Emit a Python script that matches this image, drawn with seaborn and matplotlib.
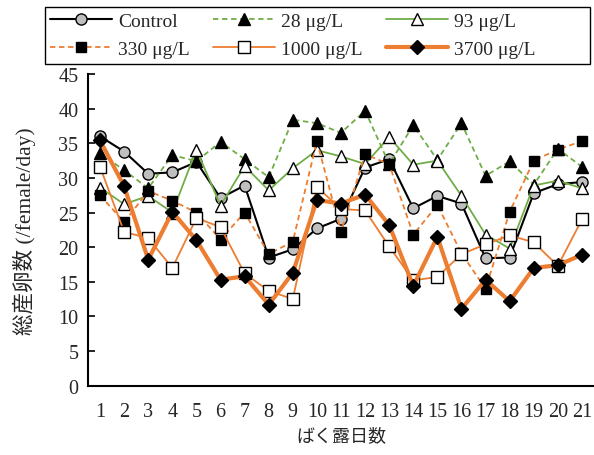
import matplotlib
matplotlib.use("Agg")
import matplotlib.pyplot as plt
from matplotlib.patches import Rectangle
import seaborn as sns
import pandas as pd
import numpy as np

days = list(range(1, 22))
control = [36.0, 33.8, 30.6, 30.8, 32.3, 27.1, 28.9, 18.5, 19.7, 22.7, 24.1, 31.5, 32.7, 25.6, 27.4, 26.3, 18.4, 18.5, 27.8, 29.1, 29.4]
c28 = [33.6, 31.1, 28.5, 33.3, 32.4, 35.2, 32.7, 30.1, 38.4, 37.9, 36.5, 39.7, 32.0, 37.6, 32.6, 37.9, 30.3, 32.4, 29.0, 34.2, 31.6]
c93 = [28.6, 26.2, 27.4, 25.0, 34.1, 26.0, 31.7, 28.2, 31.4, 34.0, 33.1, 32.0, 35.9, 31.9, 32.5, 27.4, 21.8, 19.8, 28.9, 29.6, 28.5]
c330 = [27.5, 23.6, 28.1, 26.7, 25.0, 21.1, 25.0, 19.0, 20.8, 35.3, 22.2, 33.4, 32.0, 21.8, 26.1, 19.1, 14.0, 25.1, 32.5, 34.1, 35.3]
c1000 = [31.6, 22.2, 21.3, 17.0, 24.2, 22.9, 16.2, 13.7, 12.5, 28.7, 25.5, 25.3, 20.1, 15.2, 15.7, 19.0, 20.4, 21.7, 20.7, 17.3, 24.0]
c3700 = [35.4, 28.8, 18.2, 25.1, 21.0, 15.3, 15.8, 11.7, 16.3, 26.8, 26.3, 27.6, 23.2, 14.4, 21.5, 11.1, 15.3, 12.2, 17.0, 17.4, 18.9]

labels = ["Control", "28 μg/L", "93 μg/L", "330 μg/L", "1000 μg/L", "3700 μg/L"]
yticks = list(range(0, 50, 5))

GREEN = "#70AD47"
ORANGE = "#ED7D31"

sns.set_theme(style="white")
plt.rcParams["font.family"] = ["Liberation Serif", "Noto Sans CJK JP", "DejaVu Sans"]

fig = plt.figure(figsize=(5.94, 4.56), dpi=100)
ax = fig.add_axes([88/594, 1-386.7/456, 506/594, (386.7-75)/456])

series = [control, c28, c93, c330, c1000, c3700]
styles = [
    dict(color="black", lw=1.5, ls="-", marker="o", ms=8, mfc="#BFBFBF", mec="black"),
    dict(color=GREEN, lw=1.3, ls=(0, (3, 2)), marker="^", ms=8.5, mfc="black", mec="black"),
    dict(color=GREEN, lw=1.3, ls="-", marker="^", ms=8.5, mfc="white", mec="black"),
    dict(color=ORANGE, lw=1.3, ls=(0, (3, 2)), marker="s", ms=7.5, mfc="black", mec="black"),
    dict(color=ORANGE, lw=1.3, ls="-", marker="s", ms=8, mfc="white", mec="black"),
    dict(color=ORANGE, lw=3.0, ls="-", marker="D", ms=7, mfc="black", mec="black"),
]

handles = []
for vals, lab, st in zip(series, labels, styles):
    df = pd.DataFrame({"day": days, "value": vals})
    sns.lineplot(data=df, x="day", y="value", ax=ax, color=st["color"],
                 linewidth=st["lw"], linestyle=st["ls"], marker=st["marker"],
                 markersize=st["ms"], markerfacecolor=st["mfc"],
                 markeredgecolor=st["mec"], markeredgewidth=1.0,
                 label=lab, legend=False, clip_on=False)
    handles.append(ax.get_lines()[-1])

ax.set_xlim(0.5, 21.5)
ax.set_ylim(0, 45)
ax.set_yticks(yticks)
ax.set_yticklabels([str(t) for t in yticks], fontsize=14.5)
ax.set_xticks(days)
ax.set_xticklabels([str(d) for d in days], fontsize=14.5)
ax.set_xticks(np.arange(0.5, 22, 1), minor=True)
ax.tick_params(axis="x", which="major", length=0, pad=12)
ax.tick_params(axis="x", which="minor", direction="in", length=5, width=1.2, color="black")
ax.tick_params(axis="y", which="major", direction="in", length=5, width=1.2, color="black", pad=7, left=True)
for s in ["top", "right"]:
    ax.spines[s].set_visible(False)
for s in ["left", "bottom"]:
    ax.spines[s].set_color("black")
    ax.spines[s].set_linewidth(1.5)
ax.grid(False)
ax.set_xlabel("ばく露日数", fontsize=13, labelpad=4)
ax.set_ylabel("総産卵数 (/female/day)", fontsize=15.5, labelpad=16)

order = [0, 3, 1, 4, 2, 5]
leg = fig.legend([handles[i] for i in order], [labels[i] for i in order],
                 ncol=3, loc="upper left",
                 bbox_to_anchor=(50/594, 1-13/456),
                 fontsize=14, frameon=False,
                 handlelength=3.2, handletextpad=0.3, columnspacing=1.2,
                 borderaxespad=0, borderpad=0, labelspacing=0.55)
fig.patches.append(Rectangle((45/594, 1-65/456), 545/594, 57/456,
                             transform=fig.transFigure, fill=False,
                             edgecolor="black", linewidth=1.0))

fig.savefig("out.png", dpi=100)
